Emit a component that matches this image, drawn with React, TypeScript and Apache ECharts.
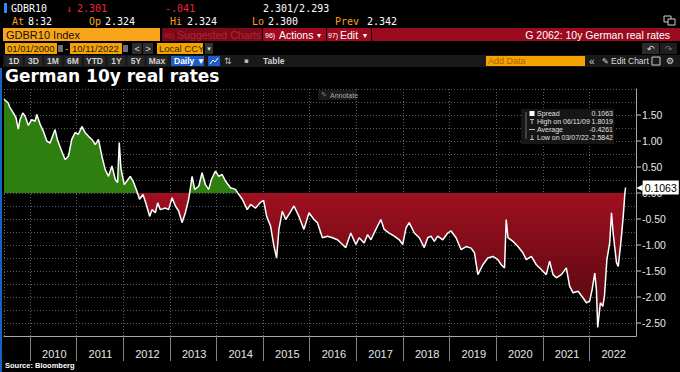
import React, { useEffect, useRef } from "react";
import * as echarts from "echarts";

// ---- data ----
const dates: string[] = [
  "2009-06-11", "2009-07-14", "2009-07-28", "2009-08-23", "2009-09-13", "2009-10-01", "2009-10-14", "2009-11-05", "2009-11-23", "2009-12-19",
  "2010-01-14", "2010-02-09", "2010-02-23", "2010-03-21", "2010-04-15", "2010-05-12", "2010-06-07", "2010-07-16", "2010-08-03", "2010-09-07",
  "2010-10-03", "2010-10-29", "2010-11-24", "2010-12-20", "2011-01-15", "2011-02-11", "2011-03-09", "2011-04-04", "2011-05-01", "2011-05-27",
  "2011-06-21", "2011-07-18", "2011-08-13", "2011-09-08", "2011-10-05", "2011-10-31", "2011-11-18", "2011-12-01", "2011-12-14", "2012-01-09",
  "2012-01-30", "2012-02-25", "2012-03-18", "2012-04-12", "2012-05-08", "2012-06-04", "2012-06-30", "2012-07-26", "2012-08-14", "2012-09-09",
  "2012-09-27", "2012-10-18", "2012-11-26", "2012-12-22", "2013-01-18", "2013-02-13", "2013-03-11", "2013-04-06", "2013-05-02", "2013-05-28",
  "2013-06-24", "2013-07-14", "2013-08-15", "2013-09-10", "2013-10-06", "2013-11-01", "2013-11-22", "2013-12-24", "2014-01-19", "2014-02-14",
  "2014-03-12", "2014-04-21", "2014-05-30", "2014-06-25", "2014-07-22", "2014-08-30", "2014-09-25", "2014-11-03", "2014-12-12", "2015-01-05",
  "2015-01-29", "2015-03-01", "2015-03-27", "2015-04-17", "2015-05-05", "2015-06-01", "2015-06-27", "2015-07-23", "2015-08-31", "2015-10-09",
  "2015-11-17", "2015-12-27", "2016-02-04", "2016-03-02", "2016-04-10", "2016-05-20", "2016-06-28", "2016-08-06", "2016-09-14", "2016-10-10",
  "2016-11-18", "2016-12-28", "2017-01-23", "2017-03-03", "2017-03-30", "2017-04-25", "2017-06-03", "2017-07-12", "2017-08-07", "2017-09-15",
  "2017-10-25", "2017-12-03", "2017-12-30", "2018-01-25", "2018-02-19", "2018-03-31", "2018-05-09", "2018-06-17", "2018-07-14", "2018-08-09",
  "2018-09-04", "2018-09-30", "2018-11-09", "2018-12-18", "2019-01-13", "2019-02-21", "2019-04-02", "2019-05-11", "2019-06-19", "2019-07-15",
  "2019-08-11", "2019-09-19", "2019-10-28", "2019-12-07", "2020-01-15", "2020-02-10", "2020-03-07", "2020-03-20", "2020-04-03", "2020-05-12",
  "2020-06-20", "2020-07-29", "2020-08-24", "2020-10-03", "2020-11-11", "2020-12-20", "2021-01-28", "2021-02-23", "2021-03-22", "2021-04-17",
  "2021-05-26", "2021-07-04", "2021-07-30", "2021-08-26", "2021-10-04", "2021-11-13", "2021-12-08", "2022-01-03", "2022-01-22", "2022-02-12",
  "2022-02-25", "2022-03-07", "2022-03-28", "2022-04-16", "2022-04-29", "2022-05-18", "2022-06-09", "2022-06-23", "2022-07-06", "2022-08-01",
  "2022-08-15", "2022-09-04", "2022-09-23", "2022-10-06", "2022-10-11",
];
const values: number[] = [
  1.8019, 1.73, 1.64, 1.54, 1.45, 1.23, 1.41, 1.54, 1.48, 1.30,
  1.41, 1.38, 1.51, 1.32, 1.19, 1.00, 0.96, 1.22, 1.03, 0.80,
  0.64, 0.71, 1.03, 1.16, 1.13, 1.28, 1.16, 1.09, 1.03, 0.93,
  1.03, 0.71, 0.45, 0.32, 0.52, 0.26, 0.20, 0.97, 0.48, 0.16,
  0.23, 0.32, 0.23, 0.07, -0.12, -0.03, -0.22, -0.45, -0.32, -0.38,
  -0.19, -0.32, -0.29, -0.32, -0.09, -0.25, -0.35, -0.57, -0.38, -0.12,
  0.32, 0.07, 0.13, 0.39, 0.16, 0.07, 0.26, 0.42, 0.32, 0.36,
  0.23, 0.10, 0.07, -0.03, -0.12, -0.32, -0.22, -0.29, -0.18, -0.14,
  -0.45, -0.64, -1.02, -1.25, -0.70, -0.35, -0.51, -0.41, -0.25, -0.45,
  -0.70, -0.38, -0.51, -0.57, -0.86, -0.83, -0.86, -0.90, -0.99, -1.05,
  -0.77, -0.99, -0.86, -0.96, -0.80, -0.90, -0.70, -0.51, -0.70, -0.77,
  -0.83, -0.90, -0.99, -0.67, -0.57, -0.77, -0.86, -1.05, -0.86, -0.83,
  -0.93, -0.83, -0.90, -0.77, -0.73, -0.86, -1.09, -1.03, -1.06, -1.15,
  -1.57, -1.38, -1.25, -1.22, -1.28, -1.38, -1.44, -0.51, -0.86, -0.93,
  -1.03, -1.15, -1.28, -1.22, -1.38, -1.47, -1.57, -1.31, -1.57, -1.63,
  -1.57, -1.44, -1.79, -1.92, -1.89, -2.02, -2.11, -2.08, -1.86, -1.54,
  -1.86, -2.5842, -2.11, -2.18, -1.98, -1.28, -0.96, -0.38, -0.77, -1.34,
  -1.41, -0.96, -0.45, 0.00, 0.1063,
];
const legendLabels: string[] = ["Spread", "High on 06/11/09", "Average", "Low on 03/07/22"];
const legendValues: string[] = ["0.1063", "1.8019", "-0.4261", "-2.5842"];
const quoteLabels: string[] = ["At", "Op", "Hi", "Lo", "Prev"];
const quoteValues: string[] = ["8:32", "2.324", "2.324", "2.300", "2.342"];
const periodButtons: string[] = ["1D", "3D", "1M", "6M", "YTD", "1Y", "5Y", "Max"];

const SANS = "'Liberation Sans', Arial, sans-serif";
const MONO = "'DejaVu Sans Mono', monospace";
const DEJA = "'DejaVu Sans', sans-serif";
const ORANGE = "#f7a21b";
const RED = "#f0243f";
const GRID = "#5c5c5c";

function T(x: number, y: number, text: string, fill: string, fontSize: number, o: any = {}) {
  return {
    type: "text",
    x,
    y,
    silent: true,
    z: o.z ?? 10,
    style: {
      text,
      fill,
      fontSize,
      fontFamily: o.fontFamily ?? SANS,
      fontWeight: o.fontWeight ?? "normal",
      align: o.align ?? "left",
      verticalAlign: "middle",
    },
  };
}
function R(x: number, y: number, w: number, h: number, fill: string, o: any = {}) {
  return {
    type: "rect",
    silent: true,
    z: o.z ?? 5,
    shape: { x, y, width: w, height: h },
    style: { fill, stroke: o.stroke ?? null, lineWidth: o.lineWidth ?? 1 },
  };
}
function L(x1: number, y1: number, x2: number, y2: number, stroke: string, z = 22) {
  return { type: "line", silent: true, z, shape: { x1, y1, x2, y2 }, style: { stroke, lineWidth: 1 } };
}

function buildGraphics() {
  const g: any[] = [];
  // row 0
  g.push(R(4, 3, 3, 10, "#2a8cff"));
  g.push(T(11, 8, "GDBR10", "#ffffff", 10, { fontFamily: MONO }));
  g.push(T(66, 8, "↓", RED, 10, { fontFamily: MONO }));
  g.push(T(77, 8, "2.301", RED, 10, { fontFamily: MONO }));
  g.push(T(165, 8, "-.041", RED, 10, { fontFamily: MONO }));
  g.push(T(263, 8, "2.301/2.293", "#ffffff", 10, { fontFamily: MONO }));
  // row 1
  const qx = [12, 89, 170, 252, 335];
  const vx = [28, 105, 187, 268, 367];
  quoteLabels.forEach((l, i) => {
    g.push(T(qx[i], 21.5, l, ORANGE, 10, { fontFamily: MONO }));
    g.push(T(vx[i], 21.5, quoteValues[i], "#ffffff", 10, { fontFamily: MONO }));
  });
  g.push(R(664, 16, 7, 6, "none", { stroke: "#cfcfcf" }));
  g.push(R(668, 19, 7, 6, "#000", { stroke: "#cfcfcf" }));
  // row 2
  g.push(R(3, 28, 157, 13, "#f9a51a"));
  g.push(T(6, 35, "GDBR10 Index", "#111111", 11));
  g.push(R(162, 28, 100, 13, "#7a0a17"));
  g.push(T(164, 35, "96)", "#b52535", 7));
  g.push(T(177, 35, "Suggested Charts", "#b52535", 10.5));
  g.push(R(263, 28, 63, 13, "#a0091e"));
  g.push(T(265, 35, "96)", "#ffffff", 7));
  g.push(T(279, 35, "Actions", "#ffffff", 10.5));
  g.push(T(317, 35, "▾", "#ffffff", 8, { fontFamily: DEJA }));
  g.push(R(327, 28, 44, 13, "#a0091e"));
  g.push(T(328, 35, "97)", "#ffffff", 7));
  g.push(T(340, 35, "Edit", "#ffffff", 10.5));
  g.push(T(363, 35, "▾", "#ffffff", 8, { fontFamily: DEJA }));
  g.push(R(372, 28, 308, 13, "#9c0b1d"));
  g.push(T(670, 35, "G 2062: 10y German real rates", "#ffffff", 10.5, { align: "right" }));
  // row 3
  const OB = "#f5a300";
  g.push(R(5, 43, 52, 11, OB));
  g.push(T(7, 48.5, "01/01/2000", "#1a1a1a", 9.5));
  g.push(R(58, 45, 5, 7, "#6f6f6f"));
  g.push(T(65, 48.5, "-", ORANGE, 10));
  g.push(R(70, 43, 52, 11, OB));
  g.push(T(72, 48.5, "10/11/2022", "#1a1a1a", 9.5));
  g.push(R(123, 45, 5, 7, "#6f6f6f"));
  g.push(R(132, 43, 10, 11, "#2e2e2e"));
  g.push(T(137, 48.5, "<", "#dddddd", 9, { align: "center" }));
  g.push(R(143, 43, 10, 11, "#2e2e2e"));
  g.push(T(148, 48.5, ">", "#dddddd", 9, { align: "center" }));
  g.push(R(157, 43, 46, 11, OB));
  g.push(T(159, 48.5, "Local CCY", "#3a2a00", 9.5));
  g.push(R(205, 43, 8, 11, "#333333"));
  g.push(T(209, 48.5, "▾", "#dddddd", 7, { align: "center", fontFamily: DEJA }));
  g.push(R(642, 43, 17, 11, "#2b2b2b"));
  g.push(T(650.5, 48.5, "↶", "#dddddd", 9, { align: "center", fontFamily: DEJA }));
  g.push(R(660, 43, 17, 11, "#1e1e1e"));
  g.push(T(668.5, 48.5, "↷", "#777777", 9, { align: "center", fontFamily: DEJA }));
  // row 4
  g.push(R(3, 55, 677, 12, "#191919"));
  const pc = [14, 33.5, 53, 73, 94.5, 116.5, 136, 157];
  periodButtons.forEach((b, i) => {
    const w = b.length > 2 ? 21 : 17;
    g.push(R(pc[i] - w / 2, 56, w, 10, "#262626"));
    g.push(T(pc[i], 61, b, "#d0d0d0", 8.5, { align: "center", fontWeight: "bold" }));
  });
  g.push(R(171, 56, 33, 10, "#1d5ec9"));
  g.push(T(174, 61, "Daily ▼", "#ffffff", 8.5, { fontWeight: "bold" }));
  g.push(R(208, 56, 12, 10, "#1d5ec9"));
  g.push({ type: "polyline", silent: true, z: 6, shape: { points: [[210, 64], [213, 60], [215, 62], [218, 58]] }, style: { stroke: "#fff", fill: null, lineWidth: 1 } });
  g.push(T(224, 61, "⇅", "#bbbbbb", 9, { fontFamily: DEJA }));
  g.push(T(244, 61, "▪", "#bbbbbb", 7, { fontFamily: DEJA }));
  g.push(T(263, 61, "Table", "#d0d0d0", 8.5, { fontWeight: "bold" }));
  g.push(R(486, 56, 99, 10, "#f5a300"));
  g.push(T(488, 61, "Add Data", "#a86200", 9));
  g.push(T(589, 61, "«", "#cccccc", 10));
  g.push(T(602, 61, "✎", "#dddddd", 8, { fontFamily: DEJA }));
  g.push(T(611, 61, "Edit Chart", "#dddddd", 8.5));
  g.push(R(652, 57, 8, 8, "none", { stroke: "#cccccc" }));
  g.push(T(670, 61, "⚙", "#dddddd", 9, { align: "center", fontFamily: DEJA }));
  // title + source
  g.push(T(5, 76, "German 10y real rates", "#ffffff", 17, { fontFamily: DEJA, fontWeight: "bold" }));
  g.push(T(5, 365, "Source: Bloomberg", "#ffffff", 7.5, { fontWeight: "bold" }));
  g.push(R(0, 68, 2, 304, "#1565c0"));
  // annotate button
  g.push(R(318, 90, 39, 10, "#1a1a1a", { z: 20 }));
  g.push(T(321, 95, "✎", "#888888", 7, { fontFamily: DEJA, z: 21 }));
  g.push(T(330, 95, "Annotate", "#a8a8a8", 7, { z: 21 }));
  // legend box
  g.push(R(521, 109, 93, 35, "#161616", { z: 20 }));
  g.push(L(526, 112, 526, 139, "#6a6a6a", 21));
  const ly = [113.5, 121.5, 129.5, 137.5];
  g.push(R(529.5, 111, 5, 5, "#ffffff", { z: 22 }));
  g.push(L(530, 119.5, 534, 119.5, "#bbbbbb"));
  g.push(L(532, 119.5, 532, 124, "#bbbbbb"));
  g.push(L(529, 129.5, 535, 129.5, "#bbbbbb"));
  g.push(L(532, 135, 532, 139.5, "#bbbbbb"));
  g.push(L(530, 139.5, 534, 139.5, "#bbbbbb"));
  legendLabels.forEach((l, i) => {
    g.push(T(537, ly[i], l, "#e0e0e0", 7, { z: 22 }));
    g.push(T(613, ly[i], legendValues[i], "#e0e0e0", 7, { align: "right", z: 22 }));
  });
  return g;
}

export default function App() {
  const ref = useRef<HTMLDivElement>(null);
  useEffect(() => {
    if (!ref.current) return;
    const chart = echarts.init(ref.current, undefined, { renderer: "svg" });
    const series = dates.map((d, i) => [d, values[i]]);
    const last = values[values.length - 1];
    const option: any = {
      animation: false,
      backgroundColor: "#000000",
      grid: { left: 4, right: 44, top: 89, bottom: 36, containLabel: false, outerBoundsMode: "none" },
      visualMap: {
        show: false,
        type: "piecewise",
        seriesIndex: 0,
        dimension: 1,
        pieces: [
          { gt: 0, lte: 3, color: "#2f7f10" },
          { gte: -3, lte: 0, color: "#9e0f1f" },
        ],
        outOfRange: { color: "#9e0f1f" },
      },
      xAxis: {
        type: "time",
        min: "2009-06-11",
        max: "2023-01-01",
        minInterval: 365 * 86400000,
        maxInterval: 366 * 86400000,
        axisLine: { show: true, onZero: false, lineStyle: { color: "#a8a8a8", width: 1 } },
        axisTick: { show: true, length: 25, lineStyle: { color: "#808080" } },
        splitLine: { show: true, lineStyle: { color: GRID, type: [1, 2] } },
        axisLabel: {
          color: "#e6e6e6",
          fontSize: 11,
          fontFamily: SANS,
          align: "left",
          padding: [0, 0, 0, 12],
          margin: 12,
          formatter: (val: number) => {
            const d = new Date(val);
            const y = d.getFullYear();
            return d.getMonth() === 0 && d.getDate() === 1 && y >= 2010 && y <= 2022 ? String(y) : "";
          },
        },
      },
      yAxis: {
        type: "value",
        position: "right",
        min: -2.75,
        max: 2.0,
        interval: 0.25,
        axisLine: { show: true, onZero: false, lineStyle: { color: "#a8a8a8", width: 1 } },
        axisTick: { show: false },
        splitLine: { show: true, lineStyle: { color: GRID, type: [1, 2] } },
        axisLabel: {
          margin: 1,
          color: "#e6e6e6",
          fontSize: 10.5,
          fontFamily: SANS,
          formatter: (v: number) => {
            const h = Math.round(v * 2) / 2;
            if (Math.abs(v - h) > 1e-6 || v > 1.6 || v < -2.6) return "";
            return "{t|}{s|}" + v.toFixed(2);
          },
          rich: {
            t: { width: 4, height: 1, backgroundColor: "#c8c8c8", verticalAlign: "middle" },
            s: { width: 1, height: 1 },
          },
        },
      },
      series: [
        {
          type: "line",
          data: series,
          symbol: "none",
          showSymbol: false,
          silent: true,
          z: 1,
          lineStyle: { width: 0 },
          areaStyle: { opacity: 1 },
        },
        {
          type: "line",
          data: series,
          symbol: "none",
          showSymbol: false,
          silent: true,
          z: 2,
          lineStyle: { width: 0, opacity: 0 },
          areaStyle: {
            opacity: 1,
            color: new echarts.graphic.LinearGradient(0, 0, 0, 1, [
              { offset: 0, color: "rgba(0,0,0,0)" },
              { offset: 0.42, color: "rgba(0,0,0,0)" },
              { offset: 1, color: "rgba(0,0,0,0.5)" },
            ]),
          },
        },
        {
          type: "line",
          data: series,
          symbol: "none",
          showSymbol: false,
          silent: true,
          z: 5,
          lineStyle: { color: "#ffffff", width: 1.5 },
          endLabel: {
            show: true,
            distance: 11,
            formatter: () => "{a|◀}{b|" + last.toFixed(4) + "}",
            rich: {
              a: { color: "#ffffff", fontSize: 8, fontFamily: DEJA },
              b: { backgroundColor: "#ffffff", color: "#000000", fontSize: 10.5, fontFamily: SANS, padding: [2, 2, 1, 2] },
            },
          },
        },
      ],
      graphic: buildGraphics(),
    };
    chart.setOption(option);
    return () => chart.dispose();
  }, []);
  return (
    <div
      ref={ref}
      style={{ position: "absolute", left: 0, top: 0, width: 680, height: 372, background: "#000" }}
    />
  );
}
